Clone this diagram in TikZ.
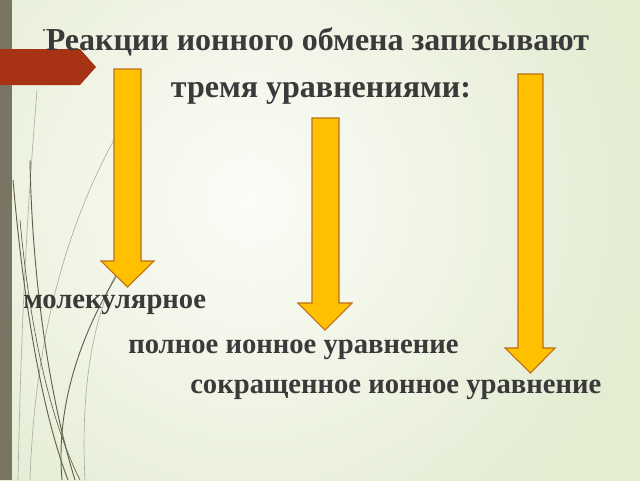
\documentclass[tikz,border=0pt]{standalone}
\usepackage{fontspec}
\setmainfont{Liberation Serif}
\definecolor{bgin}{RGB}{251,252,247}
\definecolor{bgout}{RGB}{228,236,210}
\definecolor{stripe}{RGB}{122,117,99}
\definecolor{tabred}{RGB}{168,50,20}
\definecolor{arrfill}{RGB}{255,192,0}
\definecolor{arredge}{RGB}{190,110,20}
\definecolor{txt}{RGB}{58,58,58}
\definecolor{wispdark}{RGB}{100,95,75}
\definecolor{wisplight}{RGB}{175,175,165}
\tikzset{
  blockarrow/.style={fill=arrfill, draw=arredge, line width=0.8pt, line join=miter},
  titletext/.style={font=\fontsize{24}{28}\selectfont\bfseries, text=txt, inner sep=0pt},
  itemtext/.style={font=\fontsize{21.5}{26}\selectfont\bfseries, text=txt, inner sep=0pt, anchor=base west},
  wispd/.style={draw=wispdark, line width=0.7pt},
  wispl/.style={draw=wisplight, line width=0.5pt}
}
\begin{document}
\begin{tikzpicture}[x=0.75pt, y=-0.75pt]
\useasboundingbox (0,0) rectangle (640,480);
% background
\begin{scope}
\clip (0,0) rectangle (640,480);
\shade[inner color=bgin, outer color=bgout] (-150,-200) rectangle (650,600);
% wisp lines
\draw[wispl] (37,90) .. controls (30,180) and (22,280) .. (18,480);
\draw[wispl] (115,138) .. controls (70,220) and (35,330) .. (30,480);
\draw[wispl] (130,250) .. controls (95,300) and (80,380) .. (85,480);
\draw[wispd] (30,160) .. controls (32,280) and (50,400) .. (75,480);
\draw[wispd] (13,180) .. controls (25,320) and (45,420) .. (68,480);
\draw[wispd] (132,252) .. controls (85,320) and (55,400) .. (62,480);
\draw[wispd, line width=0.5pt] (20,220) .. controls (30,330) and (50,420) .. (80,480);
\end{scope}
% stripe
\fill[stripe] (0,0) rectangle (12,480);
% red tab
\fill[tabred] (0,49) -- (80,49) -- (96,67) -- (80,85) -- (0,85) -- cycle;
% dot
\fill[txt] (44,30) circle (1.1);
% arrows
\draw[blockarrow] (114,69) -- (141,69) -- (141,261) -- (154,261) -- (127.5,287) -- (101,261) -- (114,261) -- cycle;
\draw[blockarrow] (312,118) -- (339,118) -- (339,303) -- (352,303) -- (325,330) -- (298,303) -- (312,303) -- cycle;
\draw[blockarrow] (518,74) -- (543,74) -- (543,348) -- (555,348) -- (530.5,373) -- (505,348) -- (518,348) -- cycle;
% texts
\node[titletext, anchor=base] (t1) at (317.5,50) {Реакции ионного обмена записывают};
\node[titletext, anchor=base] (t2) at (321,97) {тремя уравнениями:};
\node[itemtext] (m1) at (23,308) {молекулярное};
\node[itemtext] (m2) at (128,353) {полное ионное уравнение};
\node[itemtext] (m3) at (190,393) {сокращенное ионное уравнение};
\end{tikzpicture}
\end{document}
